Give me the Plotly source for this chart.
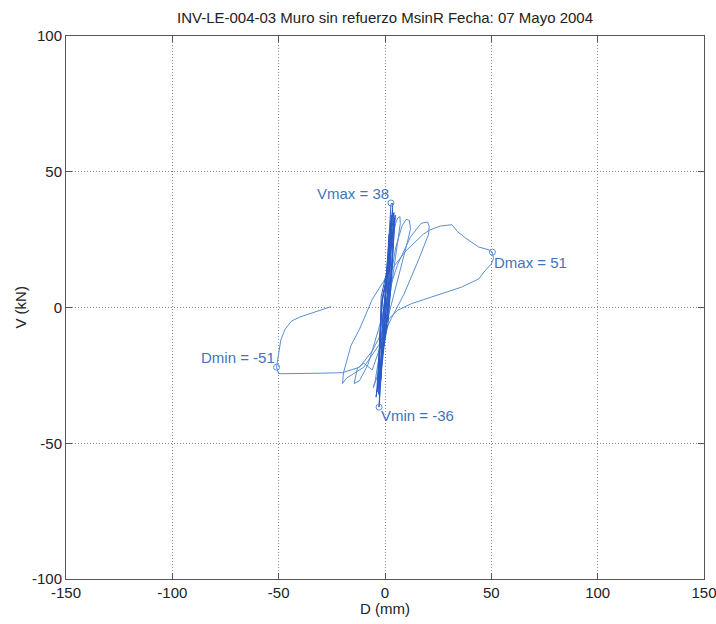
import plotly.graph_objects as go

# Early (small) cycles - dense near-vertical loops
D_small = [0, 0.5, 1.2, 1.0, 0.6, -0.5, -1.2, -1.0, -0.6,
           0.8, 1.8, 2.0, 1.6, 1.2, -0.8, -1.9, -2.1, -1.7, -1.2,
           1.0, 2.2, 2.8, 3.4, 3.6, 3.2, 2.2, 1.0, -1.5, -2.5, -2.8, -2.6, -2.0, -1.0,
           0.6, 1.8, 2.6, 3.0, 2.6, 1.8, -0.4, -2.0, -3.0, -2.8, -2.2, -1.4,
           1.2, 2.5, 3.2, 3.6, 3.4, 2.4, 0.2, -1.8, -3.4, -3.0, -2.2, -1.8,
           1.0, 3.0, 4.0, 4.2, 4.0, 3.0, 1.0, -1.4, -3.2, -4.2, -3.8, -2.6, -1.6,
           1.4, 3.4, 4.5, 4.8, 4.5, 3.4, 1.8, -0.6, -2.4, -3.6, -3.2, -2.4, -1.0,
           2.2, 3.6, 4.6, 4.4, 3.2, 1.4, -1.0, -2.8, -3.4, -3.0, -2.0]
V_small = [0, 8, 18, 17, 6, -8, -17, -16, -5,
           12, 26, 27, 24, 6, -12, -26, -27, -24, -6,
           14, 30, 38, 38.5, 37, 33, 14, -4, -22, -32, -36.7, -33, -20, -4,
           8, 22, 30, 34, 30, 10, -10, -25, -32, -29, -10, 2,
           12, 26, 32, 36, 33, 12, -8, -22, -30, -27, -8, 4,
           14, 27, 34, 35, 31, 14, -4, -18, -28, -33, -30, -14, 2,
           14, 26, 33, 34, 30, 16, 0, -14, -24, -31, -28, -10, 4,
           16, 28, 33, 30, 12, -6, -16, -26, -30, -27, -8]

# Larger cycles and final excursions
D_big = [-2.0, 1, 3, 5, 6, 7, 7.2, 6.5, 4, 1, -1, -3, -5, -5.5, -4.6, -3, -1,
         2, 5, 8, 10, 11.5, 12, 10.5, 6, 2, -2, -6, -10, -13, -14.5, -12, -8, -3,
         1, 6, 12, 16, 17, 20, 20.8, 20.5, 16, 9, 3, -3, -10, -18, -20, -19.5, -16,
         -12, -6, 2, 10, 18, 21, 26, 31.5, 34, 38, 44, 49, 50.5, 51, 50, 47, 44,
         36, 28.6, 20, 12.7, 6, 2, -2, -6, -12, -18, -20, -30, -40, -48, -50,
         -51, -50.5, -50, -49, -47, -44, -40, -34, -30, -26.4, -25.5]
V_big = [-8, 8, 24, 31, 33, 33.5, 31, 27, 14, -4, -14, -24, -28.5, -29.5, -27, -19, -6,
         8, 22, 30, 32.5, 32, 29, 24, 10, -2, -14, -23, -20.5, -22.5, -28, -27, -21, -8,
         4, 16, 26, 30, 31, 31.5, 30, 27, 18, 5, -4, -14, -22, -26, -28, -24, -14,
         -8, 3, 13, 21, 27, 28.5, 30, 30.5, 28, 25.5, 22.3, 21.2, 20.4, 18, 16, 13.5, 10.5,
         7.5, 5.6, 3.5, 1.5, -1, -4, -10, -16, -22, -23.5, -24, -24.2, -24.3, -24.5, -24.4,
         -22, -19, -16, -12, -8, -5, -3.5, -2, -1, 0, 0.3]

# Extremes
ext_names = ["Vmax = 38", "Dmax = 51", "Dmin = -51", "Vmin = -36"]
ext_D = [2.8, 50.5, -51, -2.8]
ext_V = [38.5, 20.4, -22, -36.7]

x_ticks = [-150, -100, -50, 0, 50, 100, 150]
x_ticktext = ["-150", "-100", "-50", "0", "50", "100", "150"]
y_ticks = [-100, -50, 0, 50, 100]
y_ticktext = ["-100", "-50", "0", "50", "100"]

FONT = "Liberation Sans, Arial"

fig = go.Figure()
fig.add_trace(go.Scatter(x=D_big, y=V_big, mode="lines",
                         line=dict(color="#5a8fd0", width=1), showlegend=False))
fig.add_trace(go.Scatter(x=D_small, y=V_small, mode="lines",
                         line=dict(color="#2a5ac8", width=1), showlegend=False))
fig.add_trace(go.Scatter(x=ext_D, y=ext_V, mode="markers",
                         marker=dict(symbol="circle-open", size=6, color="#5a8fd0", line=dict(width=1)),
                         showlegend=False))

txt_color = "#3f74bd"
anns = [
    dict(x=ext_D[0], y=ext_V[0] + 3.5, text=ext_names[0], xanchor="right", yanchor="middle"),
    dict(x=ext_D[1], y=ext_V[1] - 3.7, text=ext_names[1], xanchor="left", yanchor="middle"),
    dict(x=ext_D[2], y=ext_V[2] + 3.5, text=ext_names[2], xanchor="right", yanchor="middle"),
    dict(x=ext_D[3], y=ext_V[3] - 3.0, text=ext_names[3], xanchor="left", yanchor="middle"),
]
for a in anns:
    fig.add_annotation(showarrow=False, font=dict(family=FONT, size=15, color=txt_color), **a)

axis_common = dict(showgrid=True, gridcolor="#8a8a8a", griddash="1px,2px", gridwidth=1,
                   zeroline=False, showline=True, linecolor="#555555", linewidth=1, mirror="ticks",
                   ticks="inside", ticklen=6, tickcolor="#555555", automargin=False,
                   ticklabeloverflow="allow",
                   tickfont=dict(family=FONT, size=15, color="#222222"))

fig.update_xaxes(range=[-150, 150], tickvals=x_ticks, ticktext=x_ticktext, **axis_common)
fig.update_yaxes(range=[-100, 100], tickvals=y_ticks, ticktext=y_ticktext, **axis_common)

fig.add_annotation(text="D (mm)", xref="paper", yref="paper", x=0.5, y=-0.055,
                   xanchor="center", yanchor="middle", showarrow=False,
                   font=dict(family=FONT, size=15, color="#222222"))
fig.add_annotation(text="V (kN)", xref="paper", yref="paper", x=-0.072, y=0.5,
                   xanchor="center", yanchor="middle", showarrow=False, textangle=-90,
                   font=dict(family=FONT, size=15, color="#222222"))

fig.update_layout(
    width=716, height=624,
    margin=dict(l=66, r=12, t=36, b=45),
    paper_bgcolor="white", plot_bgcolor="white",
    title=dict(text="INV-LE-004-03 Muro sin refuerzo MsinR Fecha: 07 Mayo 2004",
               xref="paper", x=0.5, xanchor="center", y=0.971, yanchor="middle",
               font=dict(family=FONT, size=15, color="#222222")),
)

fig.write_html("out.html")
